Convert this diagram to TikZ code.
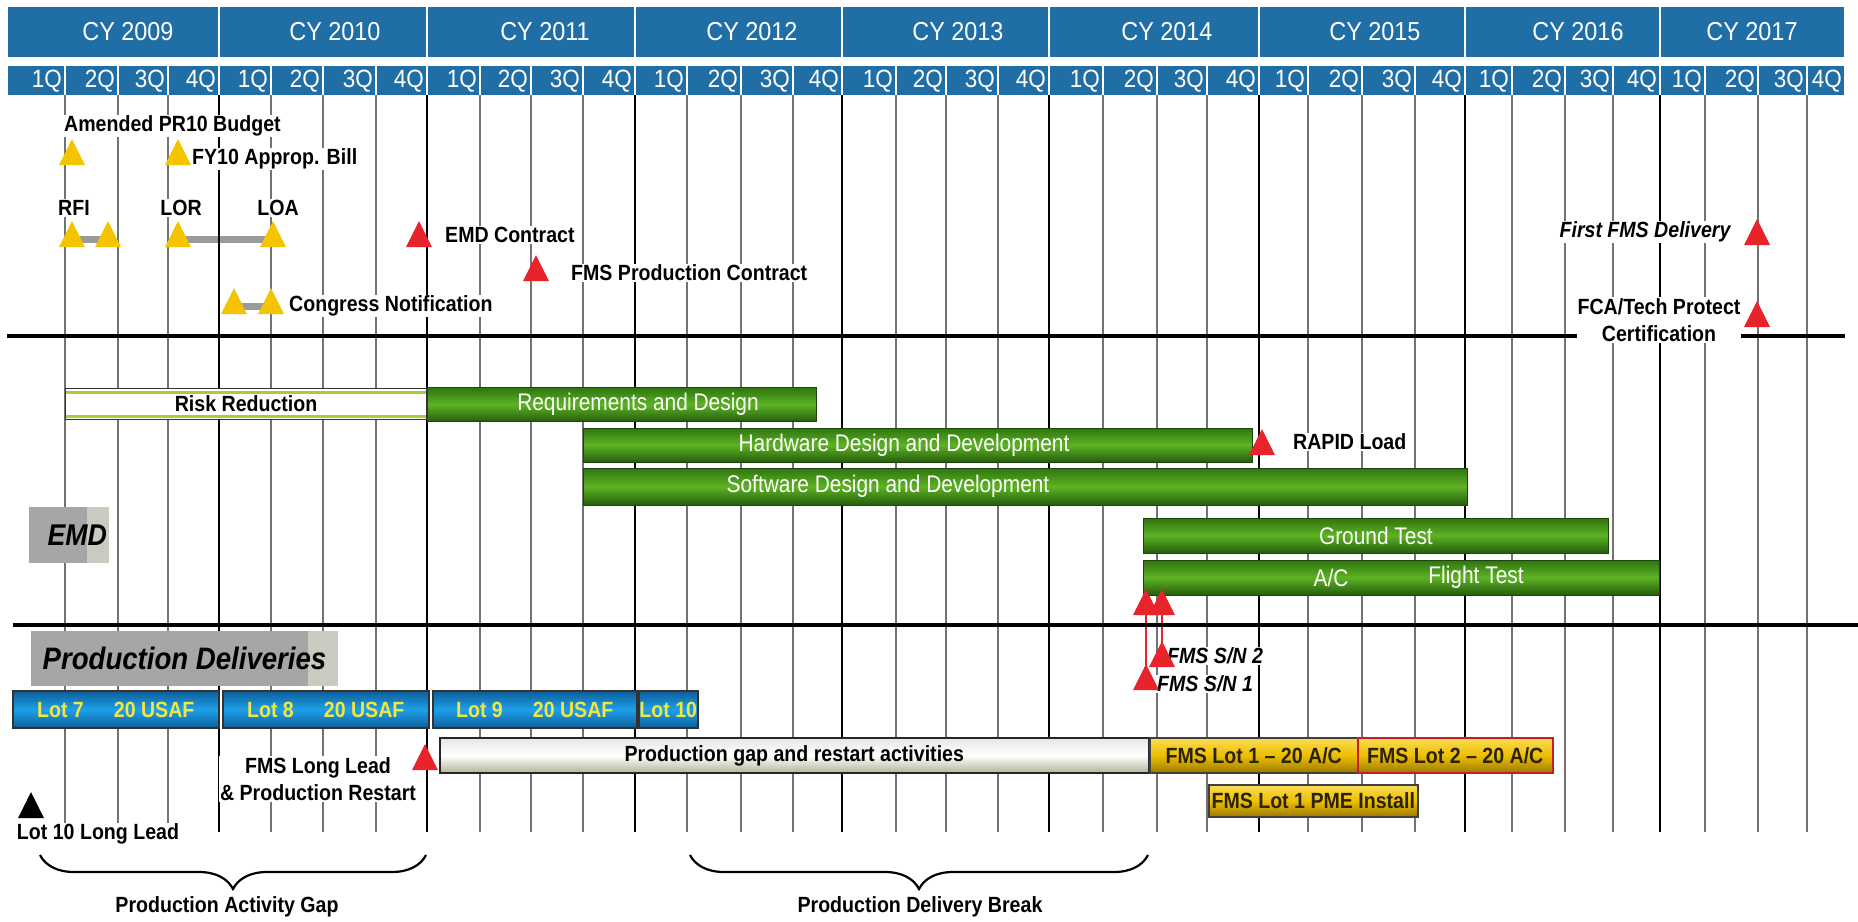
\documentclass[tikz,border=0pt]{standalone}
\usepackage{fontspec}
\setmainfont{Liberation Sans}
\newfontfamily\hdrfont{Liberation Sans}[FakeStretch=0.9]
\newfontfamily\lblfont{Liberation Sans}[FakeStretch=0.89]
\newfontfamily\barfont{Liberation Sans}[FakeStretch=0.87]
\usetikzlibrary{positioning, calc, shapes.geometric, decorations.pathreplacing, backgrounds}
\definecolor{hdrblue}{HTML}{1F6EA6}
\definecolor{grnDk}{HTML}{2F7410}
\definecolor{grnLt}{HTML}{5DB324}
\definecolor{lotblue}{HTML}{1EA0EA}
\definecolor{lotblueDk}{HTML}{0D5E9A}
\definecolor{lotyel}{HTML}{F2E640}
\definecolor{goldLt}{HTML}{F9DC55}
\definecolor{goldMd}{HTML}{EDBF00}
\definecolor{goldDk}{HTML}{9C7800}
\definecolor{msyel}{HTML}{F4C400}
\definecolor{msred}{HTML}{E8232B}
\definecolor{boxgray}{HTML}{A6A6A6}
\definecolor{boxlt}{HTML}{CACAC0}
\definecolor{rrgreen}{HTML}{A6CE39}
\definecolor{linkgray}{HTML}{9A9A9A}
\definecolor{pgapdk}{HTML}{B5B296}
\definecolor{goldtxt}{HTML}{2B2200}

\begin{document}
\begin{tikzpicture}[
    x=1pt, y=-1pt,
    ms/.style={isosceles triangle, shape border rotate=90, isosceles triangle stretches,
        minimum width=26pt, minimum height=26pt, inner sep=0pt, fill=#1, yshift=-4pt},
    mlbl/.style={font=\lblfont\bfseries\fontsize{22}{27}\selectfont,
        fill=white, inner sep=1pt, align=center},
    milbl/.style={mlbl, font=\lblfont\bfseries\itshape\fontsize{22}{27}\selectfont},
    cylbl/.style={text=white, font=\hdrfont\fontsize{26}{28}\selectfont, inner sep=0pt},
    qlbl/.style={text=white, font=\hdrfont\fontsize{25}{27}\selectfont, inner sep=0pt},
    qline/.style={draw=black!55, line width=1.8pt},
    yline/.style={draw=black, line width=2.6pt},
    secline/.style={draw=black, line width=#1},
    mslink/.style={draw=linkgray, line width=7pt},
    snlink/.style={draw=msred, line width=2.5pt},
    gbar/.style={anchor=west, inner sep=0pt, minimum height=35pt,
        top color=grnDk, bottom color=grnDk!80!black, middle color=grnLt,
        draw=grnDk!60!black, line width=0.8pt,
        text=white, font=\barfont\fontsize{24}{26}\selectfont},
    gtxt/.style={text=white, font=\barfont\fontsize{24}{26}\selectfont, inner sep=0pt},
    rrbar/.style={anchor=west, inner sep=0pt, minimum height=31pt, fill=white,
        draw=black!80, line width=1.2pt,
        font=\lblfont\bfseries\fontsize{22}{26}\selectfont,
        path picture={
            \draw[rrgreen, line width=3pt]
                ([yshift=-3.5pt]path picture bounding box.north west) --
                ([yshift=-3.5pt]path picture bounding box.north east);
            \draw[rrgreen, line width=3pt]
                ([yshift=3.5pt]path picture bounding box.south west) --
                ([yshift=3.5pt]path picture bounding box.south east);
        }},
    lotbar/.style={anchor=west, inner sep=0pt, minimum height=37pt,
        top color=lotblueDk, bottom color=lotblueDk, middle color=lotblue,
        draw=black!80, line width=1.5pt,
        text=lotyel, font=\lblfont\bfseries\fontsize{22}{26}\selectfont},
    gapbar/.style={anchor=west, inner sep=0pt, minimum height=35pt,
        top color=black!10, bottom color=pgapdk, middle color=white,
        draw=black!85, line width=1.5pt,
        font=\lblfont\bfseries\fontsize{22}{26}\selectfont},
    goldbar/.style={anchor=west, inner sep=0pt, minimum height=35pt,
        top color=goldLt, bottom color=goldDk, middle color=goldMd,
        draw=black!75, line width=1.5pt,
        text=goldtxt, font=\lblfont\bfseries\fontsize{22}{26}\selectfont},
    secbox/.style={fill=boxgray, inner sep=0pt,
        path picture={
            \fill[boxlt] ([xshift=-#1]path picture bounding box.north east)
                rectangle (path picture bounding box.south east);
        }},
    gapbrace/.style={draw=black, line width=2.2pt, decorate,
        decoration={brace, amplitude=34pt}},
]

\begin{scope}[on background layer]
    \fill[white] (0,0) rectangle (1858,921);
\end{scope}
\useasboundingbox (0,0) rectangle (1858,921);

% ===== Header and quarter grid =====
\foreach \yr/\xa/\qa/\qb/\qc/\xb/\cx in {
        2009/7/65/118/168/219/128, 2010/219/271/323/376/427/335,
        2011/427/480/531/583/635/545, 2012/635/687/741/793/842/752,
        2013/842/896/946/998/1049/958, 2014/1049/1103/1157/1207/1259/1167,
        2015/1259/1308/1362/1415/1465/1375, 2016/1465/1512/1565/1613/1660/1578,
        2017/1660/1705/1758/1807/1845/1752} {
    \fill[hdrblue] (\xa+1,7) rectangle (\xb-1,57);
    \foreach \qs/\qe in {\xa/\qa, \qa/\qb, \qb/\qc, \qc/\xb} {
        \fill[hdrblue] (\qs+0.8,66) rectangle (\qe-0.8,95);
    }
    \node[cylbl] (cy\yr) at (\cx,32) {CY \yr};
    \foreach \q/\qx in {1/\qa, 2/\qb, 3/\qc, 4/\xb} {
        \node[qlbl, anchor=east] (q\yr-\q) at (\qx-3,81) {\q Q};
    }
    \foreach \qx in {\qa,\qb,\qc} {
        \draw[qline] (\qx,95) -- (\qx,832);
    }
    \ifnum\yr<2017 \draw[yline] (\xb,95) -- (\xb,832); \fi
}

% section rules
\draw[secline=3.5pt] (7,336) -- (1845,336);
\draw[secline=4.5pt] (13,625) -- (1858,625);

% ===== EMD bars =====
\node[secbox=22pt, minimum width=80pt, minimum height=56pt, text width=76pt,
      align=right, inner xsep=2pt,
      font=\lblfont\bfseries\itshape\fontsize{30}{32}\selectfont] (emd) at (69,535) {EMD};

\node[rrbar, minimum width=361pt] (rr) at (65,404) {Risk Reduction};
\node[gbar, minimum width=389pt, minimum height=34pt] (req) at (427,404.5) {};
\node[gtxt] (reqt) at (638,404.5) {Requirements and Design};
\node[gbar, minimum width=669pt, minimum height=34pt] (hw) at (583,445) {};
\node[gtxt] (hwt) at (904,445) {Hardware Design and Development};
\node[gbar, minimum width=884pt, minimum height=37pt] (sw) at (583,486.5) {};
\node[gtxt] (swt) at (888,486.5) {Software Design and Development};
\node[gbar, minimum width=465pt] (gt) at (1143,535.5) {Ground Test};
\node[gbar, minimum width=516pt] (ft) at (1143,577.5) {};
\node[gtxt] (ftac) at (1331,577.5) {A/C};
\node[gtxt] (ftt) at (1476,577.5) {Flight Test};

% ===== Production bars =====
\node[secbox=30pt, minimum width=307pt, minimum height=55pt,
      font=\lblfont\bfseries\itshape\fontsize{31}{33}\selectfont] (pdel) at (184.5,658.5) {Production Deliveries};

\node[lotbar, minimum width=206pt] (lot7) at (12,709.5) {Lot 7\hspace{30pt}20 USAF};
\node[lotbar, minimum width=206pt] (lot8) at (222,709.5) {Lot 8\hspace{30pt}20 USAF};
\node[lotbar, minimum width=204pt] (lot9) at (432,709.5) {Lot 9\hspace{30pt}20 USAF};
\node[lotbar, minimum width=59pt] (lot10) at (638,709.5) {Lot 10};

\node[gapbar, minimum width=709pt] (pgap) at (439,755.5) {Production gap and restart activities};
\node[goldbar, minimum width=208pt] (fl1) at (1149,755.5) {FMS Lot 1 – 20 A/C};
\node[goldbar, minimum width=195pt, draw=msred!85!black] (fl2) at (1357,755.5) {FMS Lot 2 – 20 A/C};
\node[goldbar, minimum width=209pt, minimum height=32pt] (pme) at (1208,801) {FMS Lot 1 PME Install};

% ===== Milestone labels =====
\node[mlbl, anchor=west] (amendl) at (63,126) {Amended PR10 Budget};
\node[mlbl, anchor=west] (fy10l) at (191,159) {FY10 Approp. Bill};
\node[mlbl] (rfil) at (74,208) {RFI};
\node[mlbl] (lorl) at (181,208) {LOR};
\node[mlbl] (loal) at (278,208) {LOA};
\node[mlbl, anchor=west] (congl) at (288,306) {Congress Notification};
\node[mlbl, anchor=west] (emdcl) at (444,235) {EMD Contract};
\node[mlbl, anchor=west] (fmspcl) at (570,273) {FMS Production Contract};
\node[milbl] (firstl) at (1645,232) {First FMS Delivery};
\node[mlbl] (fcal) at (1659,320) {FCA/Tech Protect\\Certification};
\node[mlbl, anchor=west] (rapidl) at (1292,442) {RAPID Load};
\node[milbl, anchor=west] (sn2l) at (1166,656) {FMS S/N 2};
\node[milbl, anchor=west] (sn1l) at (1156,684) {FMS S/N 1};
\node[mlbl] (fmslll) at (318,779) {FMS Long Lead\\\& Production Restart};
\node[mlbl] (lot10lll) at (98,834) {Lot 10 Long Lead};

% ===== Milestone triangles =====
\node[ms=msyel] (amend) at (72,153) {};
\node[ms=msyel] (fy10) at (178,153) {};
\node[ms=msyel] (rfiA) at (72,235) {};
\node[ms=msyel] (rfiB) at (108,235) {};
\node[ms=msyel] (lor) at (178,235) {};
\node[ms=msyel] (loa) at (273,235) {};
\node[ms=msyel] (congA) at (234,302) {};
\node[ms=msyel] (congB) at (271,302) {};
\node[ms=msred] (emdc) at (419,235) {};
\node[ms=msred] (fmspc) at (536,269) {};
\node[ms=msred] (first) at (1757,233) {};
\node[ms=msred] (fca) at (1757,315) {};
\node[ms=msred] (rapid) at (1262,443) {};
\node[ms=msred] (snA1) at (1146,603) {};
\node[ms=msred] (snA2) at (1162,603) {};
\node[ms=msred] (sn2) at (1162,655) {};
\node[ms=msred] (sn1) at (1146,678) {};
\node[ms=msred] (fmsll) at (425,758) {};
\node[ms=black] (lot10ll) at (31,806) {};

% links behind the triangles
\begin{scope}[on background layer]
    \draw[mslink] (rfiA.center) -- (rfiB.center);
    \draw[mslink] (lor.center) -- (loa.center);
    \draw[mslink] (congA.center) -- (congB.center);
    \draw[snlink] (snA1.center) -- (sn1.center);
    \draw[snlink] (snA2.center) -- (sn2.center);
\end{scope}

% ===== Braces =====
\coordinate (pagL) at (40,855);
\coordinate (pagR) at (426,855);
\draw[gapbrace] (pagR) -- (pagL);
\node[mlbl, fill=none] (pag) at (227,907) {Production Activity Gap};

\coordinate (pdbL) at (690,855);
\coordinate (pdbR) at (1148,855);
\draw[gapbrace] (pdbR) -- (pdbL);
\node[mlbl, fill=none] (pdb) at (920,907) {Production Delivery Break};

\end{tikzpicture}
\end{document}
